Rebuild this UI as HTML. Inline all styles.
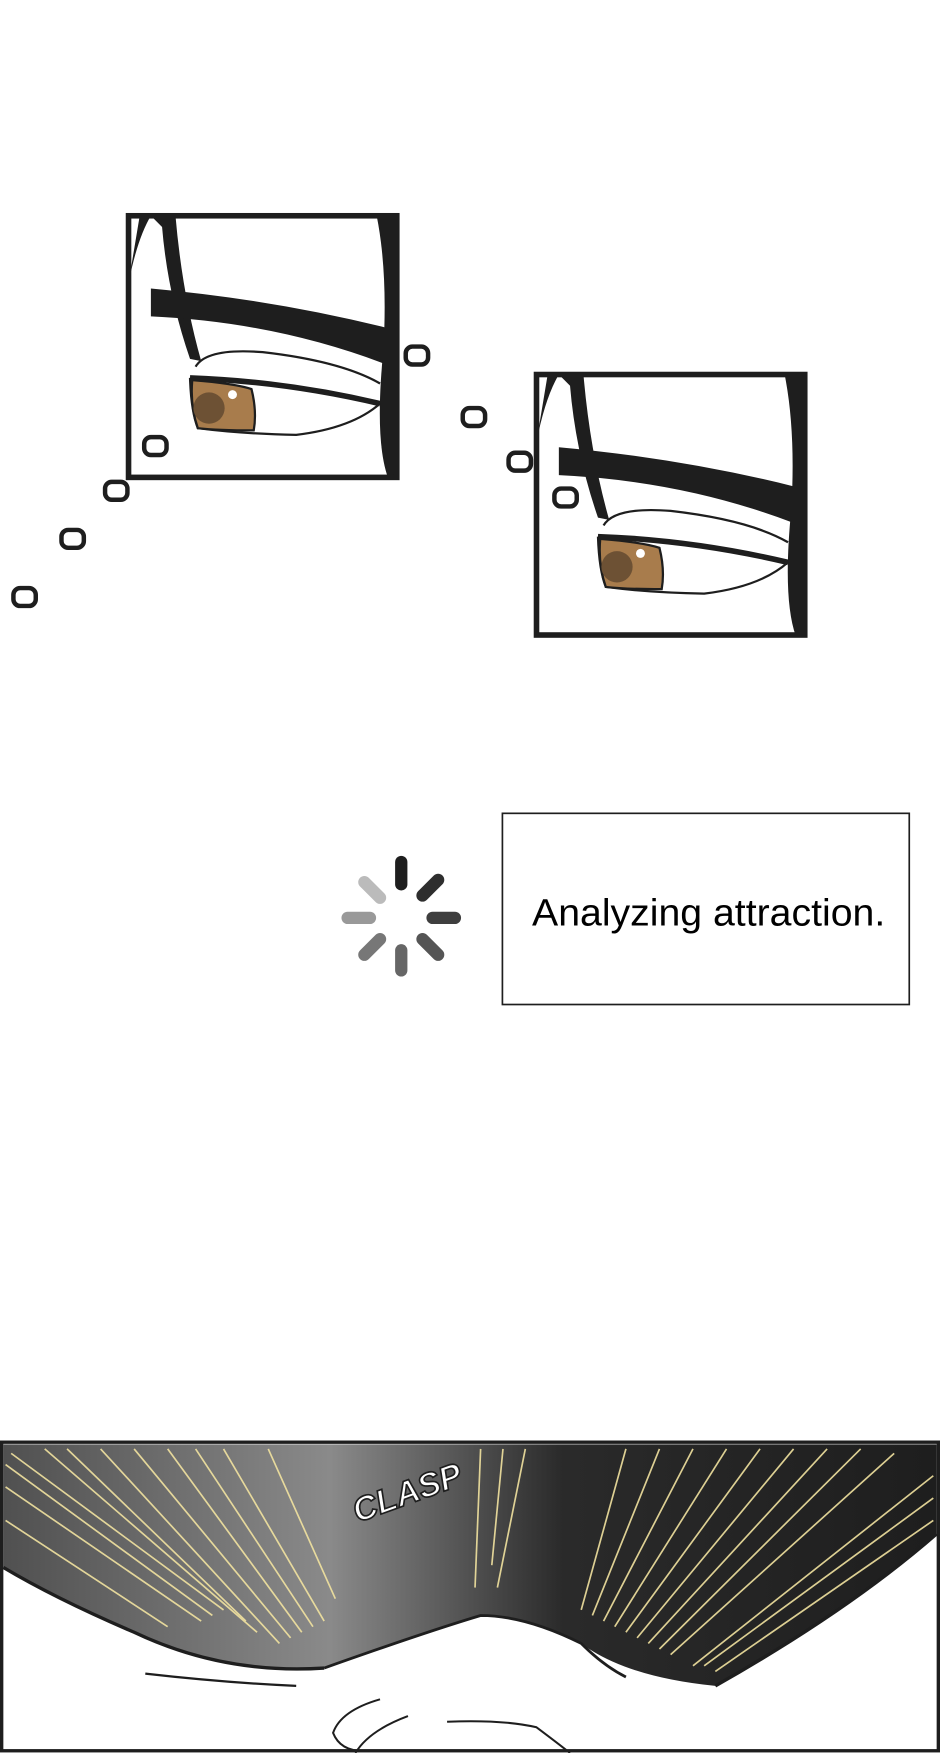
<!DOCTYPE html>
<html><head><meta charset="utf-8"><style>
html,body{margin:0;padding:0;background:#fff;}
svg{display:block;}
</style></head><body>
<svg width="940" height="1753" viewBox="0 0 841 1568" preserveAspectRatio="none" xmlns="http://www.w3.org/2000/svg">
<defs>
<linearGradient id="g2" x1="0" x2="1" y1="0" y2="0">
<stop offset="0" stop-color="#505050"/><stop offset="0.35" stop-color="#8a8a8a"/><stop offset="0.6" stop-color="#2a2a2a"/><stop offset="1" stop-color="#1e1e1e"/>
</linearGradient>
<g id="eye">
<rect x="0" y="0" width="240" height="234" fill="#fff"/>
<path d="M20 0 L42 0 Q48 70 65 130 L55 128 Q35 70 30 10 Z" fill="#1e1e1e"/>
<path d="M0 60 Q8 20 20 0 L10 0 Z" fill="#1e1e1e"/>
<path d="M222 0 L240 0 L240 234 L232 234 Q220 200 228 120 Q232 50 222 0 Z" fill="#1e1e1e"/>
<path d="M20 65 Q130 75 230 100 L228 132 Q130 95 20 90 Z" fill="#1e1e1e"/>
<path d="M60 135 Q70 118 120 122 Q190 130 225 150" fill="none" stroke="#1e1e1e" stroke-width="2"/>
<path d="M55 145 Q140 148 225 168" fill="none" stroke="#1e1e1e" stroke-width="5"/>
<path d="M55 145 Q56 175 62 190 Q100 195 150 196 Q200 190 225 168" fill="none" stroke="#1e1e1e" stroke-width="2"/>
<path d="M57 147 Q95 150 110 155 Q115 175 112 192 Q80 192 62 190 Q55 170 57 147Z" fill="#a87c4c" stroke="#1e1e1e" stroke-width="2"/>
<circle cx="72" cy="172" r="14" fill="#6d5134"/>
<circle cx="93" cy="160" r="4" fill="#fff"/>
</g>
<rect id="o" x="-10" y="-8" width="20" height="16" rx="6" fill="none" stroke="#1e1e1e" stroke-width="4"/>
</defs>
<rect width="841" height="1568" fill="#fff"/>
<use href="#eye" x="115" y="193"/>
<rect x="115" y="193" width="240" height="234" fill="none" stroke="#1e1e1e" stroke-width="5"/>
<use href="#eye" x="480" y="335"/>
<rect x="480" y="335" width="240" height="233" fill="none" stroke="#1e1e1e" stroke-width="5"/>
<use href="#o" x="373" y="318"/><use href="#o" x="424" y="373"/><use href="#o" x="465" y="413"/><use href="#o" x="506" y="445"/>
<use href="#o" x="139" y="399"/><use href="#o" x="104" y="439"/><use href="#o" x="65" y="482"/><use href="#o" x="22" y="534"/>
<g stroke-linecap="round" stroke-width="11" transform="translate(359,818)">
<line x1="0" y1="-27" x2="0" y2="-47" stroke="#1e1e1e"/>
<line x1="19" y1="-17" x2="33" y2="-31" stroke="#2e2e2e"/>
<line x1="28" y1="3" x2="48" y2="3" stroke="#3e3e3e"/>
<line x1="19" y1="22" x2="33" y2="36" stroke="#555"/>
<line x1="0" y1="32" x2="0" y2="50" stroke="#666"/>
<line x1="-19" y1="22" x2="-33" y2="36" stroke="#777"/>
<line x1="-28" y1="3" x2="-48" y2="3" stroke="#999"/>
<line x1="-19" y1="-15" x2="-33" y2="-29" stroke="#bbb"/>
</g>
<rect x="449.5" y="727.5" width="364" height="171" fill="#fff" stroke="#1e1e1e" stroke-width="1.5"/>
<text x="476" y="828" font-family="Liberation Sans, sans-serif" font-size="34" textLength="316" lengthAdjust="spacingAndGlyphs" fill="#000">Analyzing attraction.</text>
<rect x="1.5" y="1290" width="838" height="276" fill="#fff" stroke="#1e1e1e" stroke-width="3"/>
<path d="M3 1292 L838 1292 L838 1372 Q760 1440 640 1508 Q560 1500 520 1470 Q470 1445 430 1445 Q380 1460 290 1492 Q200 1498 120 1460 Q50 1430 3 1402 Z" fill="url(#g2)"/>
<g stroke="#f2e3a0" stroke-width="1.5" opacity="0.9">
<line x1="10" y1="1300" x2="200" y2="1440"/><line x1="40" y1="1296" x2="230" y2="1460"/><line x1="90" y1="1296" x2="250" y2="1470"/>
<line x1="150" y1="1296" x2="270" y2="1460"/><line x1="200" y1="1296" x2="290" y2="1450"/><line x1="240" y1="1296" x2="300" y2="1430"/>
<line x1="60" y1="1296" x2="220" y2="1450"/><line x1="120" y1="1296" x2="260" y2="1465"/><line x1="175" y1="1296" x2="280" y2="1455"/>
<line x1="5" y1="1330" x2="180" y2="1450"/><line x1="5" y1="1360" x2="150" y2="1455"/><line x1="5" y1="1310" x2="190" y2="1445"/>
<line x1="430" y1="1296" x2="425" y2="1420"/><line x1="450" y1="1296" x2="440" y2="1400"/><line x1="470" y1="1296" x2="445" y2="1420"/>
<line x1="560" y1="1296" x2="520" y2="1440"/><line x1="620" y1="1296" x2="540" y2="1450"/><line x1="680" y1="1296" x2="560" y2="1460"/>
<line x1="740" y1="1296" x2="580" y2="1470"/><line x1="800" y1="1300" x2="600" y2="1480"/><line x1="835" y1="1320" x2="620" y2="1490"/>
<line x1="835" y1="1360" x2="640" y2="1495"/><line x1="835" y1="1340" x2="630" y2="1490"/>
<line x1="590" y1="1296" x2="530" y2="1445"/><line x1="650" y1="1296" x2="550" y2="1455"/><line x1="710" y1="1296" x2="570" y2="1465"/><line x1="770" y1="1296" x2="590" y2="1475"/>
</g>
<path d="M290 1492 Q380 1460 430 1445 Q470 1445 520 1470 Q540 1490 560 1500" fill="none" stroke="#1e1e1e" stroke-width="2.5"/>
<path d="M3 1402 Q50 1430 120 1460 Q200 1498 290 1492" fill="none" stroke="#1e1e1e" stroke-width="3"/>
<path d="M640 1508 Q760 1440 838 1372" fill="none" stroke="#1e1e1e" stroke-width="3"/>
<path d="M130 1497 Q200 1505 265 1508" fill="none" stroke="#1e1e1e" stroke-width="2"/>
<path d="M340 1520 Q305 1530 298 1550 Q305 1568 330 1566 M400 1540 Q450 1538 480 1545 Q500 1560 510 1568 M365 1535 Q330 1548 318 1568" fill="none" stroke="#1e1e1e" stroke-width="1.8"/>
<text x="0" y="0" transform="translate(320,1362) rotate(-20)" font-family="Liberation Sans, sans-serif" font-style="italic" font-weight="bold" font-size="30" fill="#fff" stroke="#1e1e1e" stroke-width="1.5">CLASP</text>
</svg>
</body></html>
